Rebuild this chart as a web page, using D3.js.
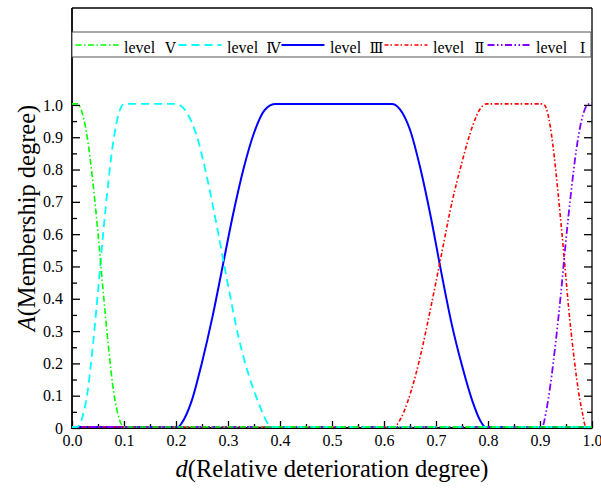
<!DOCTYPE html>
<html>
<head>
<meta charset="utf-8">
<script src="https://cdn.jsdelivr.net/npm/d3@7/dist/d3.min.js"></script>
<style>
  html, body { margin: 0; padding: 0; background: #fff; }
  svg { display: block; }
</style>
</head>
<body>
<svg id="chart" width="601" height="493"></svg>
<script>
// Membership functions of the five deterioration levels: [d, A] pairs
const levelV = [
  [0, 1], [0.01, 1], [0.02, 0.97], [0.03, 0.89], [0.04, 0.76], [0.05, 0.6],
  [0.06, 0.42], [0.07, 0.25], [0.08, 0.11], [0.09, 0.03], [0.1, 0], [1, 0]
];
const levelIV = [
  [0, 0], [0.01, 0], [0.02, 0.03], [0.03, 0.11], [0.04, 0.25], [0.05, 0.42],
  [0.06, 0.6], [0.07, 0.76], [0.08, 0.89], [0.09, 0.97], [0.1, 1], [0.2, 1],
  [0.22, 0.975], [0.24, 0.9], [0.26, 0.77], [0.28, 0.61], [0.3, 0.44],
  [0.32, 0.28], [0.34, 0.16], [0.36, 0.07], [0.375, 0.015], [0.383, 0], [1, 0]
];
const levelIII = [
  [0, 0], [0.204, 0], [0.21, 0.01], [0.23, 0.08], [0.25, 0.2], [0.27, 0.34],
  [0.29, 0.5], [0.31, 0.66], [0.33, 0.8], [0.35, 0.91], [0.37, 0.98], [0.39, 1],
  [0.615, 1], [0.63, 0.985], [0.65, 0.92], [0.67, 0.8], [0.69, 0.65],
  [0.71, 0.48], [0.73, 0.32], [0.75, 0.19], [0.77, 0.08], [0.785, 0.02],
  [0.795, 0], [1, 0]
];
const levelII = [
  [0, 0], [0.62, 0], [0.63, 0.02], [0.65, 0.1], [0.67, 0.22], [0.69, 0.37],
  [0.71, 0.53], [0.73, 0.69], [0.75, 0.82], [0.77, 0.93], [0.785, 0.985],
  [0.797, 1], [0.906, 1], [0.915, 0.97], [0.925, 0.87], [0.935, 0.72],
  [0.945, 0.55], [0.955, 0.37], [0.965, 0.22], [0.975, 0.1], [0.982, 0.04],
  [0.988, 0], [1, 0]
];
const levelI = [
  [0, 0], [0.904, 0], [0.912, 0.05], [0.92, 0.13], [0.93, 0.26], [0.94, 0.41],
  [0.95, 0.58], [0.96, 0.73], [0.97, 0.86], [0.98, 0.95], [0.99, 0.995],
  [0.995, 1], [1, 1]
];

// Legend order and numerals
const legendNumerals = ["Ⅴ", "Ⅳ", "Ⅲ", "Ⅱ", "Ⅰ"];
const legendWord = "level";

// Axis ticks
const xTickValues = [0, 0.1, 0.2, 0.3, 0.4, 0.5, 0.6, 0.7, 0.8, 0.9, 1.0];
const xTickLabels = ["0.0", "0.1", "0.2", "0.3", "0.4", "0.5", "0.6", "0.7", "0.8", "0.9", "1.0"];
const yTickValues = [0, 0.1, 0.2, 0.3, 0.4, 0.5, 0.6, 0.7, 0.8, 0.9, 1.0];
const yTickLabels = ["0", "0.1", "0.2", "0.3", "0.4", "0.5", "0.6", "0.7", "0.8", "0.9", "1.0"];
const minorTickValues = [0.05, 0.15, 0.25, 0.35, 0.45, 0.55, 0.65, 0.75, 0.85, 0.95];

// Series styling
const series = [
  { key: "Ⅴ", data: levelV,   color: "#00ff00", dash: "6,2.5,1.5,2.5",           width: 1.6 },
  { key: "Ⅳ", data: levelIV,  color: "#00ffff", dash: "8,5",                     width: 1.8 },
  { key: "Ⅲ", data: levelIII, color: "#0000ff", dash: null,                      width: 2 },
  { key: "Ⅱ", data: levelII,  color: "#ff0000", dash: "4,2,1.5,2.5",             width: 1.6 },
  { key: "Ⅰ", data: levelI,   color: "#8000ff", dash: "7,2.5,1.5,2.5,1.5,2.5",   width: 1.8 }
];

const SERIF = "\"Liberation Serif\", \"Times New Roman\", serif";
const NUMERAL_FONT = "\"DejaVu Serif\", serif";

const svg = d3.select("#chart");
const W = 601, H = 493;
const plot = { left: 72, right: 592, top: 8, bottom: 428 };

svg.append("rect").attr("width", W).attr("height", H).attr("fill", "#fff");

const x = d3.scaleLinear().domain([0, 1]).range([plot.left, plot.right]);
const y = d3.scaleLinear().domain([0, 1.3]).range([plot.bottom, plot.top]);

function styleTicks(g, labelled) {
  g.attr("font-family", null).attr("font-size", null);
  g.select(".domain").remove();
  g.selectAll(".tick line").attr("stroke", "#000").attr("stroke-width", 1.3);
  if (labelled) {
    g.selectAll(".tick text")
      .style("font-family", SERIF)
      .style("font-size", "16px")
      .attr("fill", "#000");
  }
}

// Bottom axis: ticks point inward
const gx = svg.append("g").attr("transform", `translate(0,${plot.bottom})`)
  .call(d3.axisBottom(x).tickValues(xTickValues).tickSize(-7).tickPadding(7)
    .tickFormat((d, i) => xTickLabels[i]));
styleTicks(gx, true);
const gxMinor = svg.append("g").attr("transform", `translate(0,${plot.bottom})`)
  .call(d3.axisBottom(x).tickValues(minorTickValues).tickSize(-4).tickFormat(""));
styleTicks(gxMinor, false);

// Left axis: ticks point inward
const gy = svg.append("g").attr("transform", `translate(${plot.left},0)`)
  .call(d3.axisLeft(y).tickValues(yTickValues).tickSize(-8).tickPadding(9)
    .tickFormat((d, i) => yTickLabels[i]));
styleTicks(gy, true);
const gyMinor = svg.append("g").attr("transform", `translate(${plot.left},0)`)
  .call(d3.axisLeft(y).tickValues(minorTickValues).tickSize(-5).tickFormat(""));
styleTicks(gyMinor, false);

// Right axis: ticks only, pointing inward
const gyr = svg.append("g").attr("transform", `translate(${plot.right},0)`)
  .call(d3.axisRight(y).tickValues(yTickValues).tickSize(-8).tickFormat(""));
styleTicks(gyr, false);
const gyrMinor = svg.append("g").attr("transform", `translate(${plot.right},0)`)
  .call(d3.axisRight(y).tickValues(minorTickValues).tickSize(-5).tickFormat(""));
styleTicks(gyrMinor, false);

// Frame
const frame = svg.append("g").attr("stroke", "#000");
frame.append("line").attr("x1", plot.left).attr("x2", plot.right).attr("y1", plot.top).attr("y2", plot.top)
  .attr("stroke-width", 1.3);
frame.append("line").attr("x1", plot.right).attr("x2", plot.right).attr("y1", plot.top).attr("y2", plot.bottom)
  .attr("stroke-width", 1.3);
frame.append("line").attr("x1", plot.left).attr("x2", plot.left).attr("y1", plot.top).attr("y2", plot.bottom + 0.9)
  .attr("stroke-width", 1.8);
frame.append("line").attr("x1", plot.left).attr("x2", plot.right + 0.6).attr("y1", plot.bottom).attr("y2", plot.bottom)
  .attr("stroke-width", 1.8);

// Curves sit over the frame, so the zero segments show along the bottom axis
const line = d3.line()
  .x(d => x(d[0]))
  .y(d => y(d[1]) - 1)
  .curve(d3.curveMonotoneX);

const drawOrder = ["Ⅲ", "Ⅱ", "Ⅰ", "Ⅳ", "Ⅴ"];
const curves = svg.append("g");
drawOrder.forEach(k => {
  const s = series.find(t => t.key === k);
  curves.append("path")
    .datum(s.data)
    .attr("d", line)
    .attr("fill", "none")
    .attr("stroke", s.color)
    .attr("stroke-width", s.width)
    .attr("stroke-dasharray", s.dash)
    .attr("stroke-linejoin", "round");
});

// Legend box across the top of the plot
const legend = svg.append("g");
legend.append("rect")
  .attr("x", plot.left).attr("y", 32)
  .attr("width", 591 - plot.left).attr("height", 25)
  .attr("fill", "#fff").attr("stroke", "#555").attr("stroke-width", 1);

const legendX = d3.scaleLinear().domain([0, 4]).range([75.5, 487.5]);
series.forEach((s, i) => {
  const x0 = legendX(i);
  legend.append("line")
    .attr("x1", x0).attr("x2", x0 + 43)
    .attr("y1", 45).attr("y2", 45)
    .attr("stroke", s.color)
    .attr("stroke-width", s.width)
    .attr("stroke-dasharray", s.dash);
  legend.append("text")
    .attr("x", x0 + 48.5).attr("y", 52.5)
    .style("font-family", SERIF).style("font-size", "16px")
    .text(legendWord);
  legend.append("text")
    .attr("x", x0 + 95).attr("y", 52.5)
    .attr("text-anchor", "middle")
    .style("font-family", NUMERAL_FONT).style("font-size", "14.5px")
    .text(legendNumerals[i]);
});

// Axis titles
const xTitle = svg.append("text")
  .attr("x", (plot.left + plot.right) / 2)
  .attr("y", 477)
  .attr("text-anchor", "middle")
  .style("font-family", SERIF).style("font-size", "24.5px");
xTitle.append("tspan").style("font-style", "italic").text("d");
xTitle.append("tspan").text("(Relative deterioration degree)");

const yTitle = svg.append("text")
  .attr("transform", `translate(35,${(plot.top + plot.bottom) / 2}) rotate(-90)`)
  .attr("text-anchor", "middle")
  .style("font-family", SERIF).style("font-size", "24.5px");
yTitle.append("tspan").style("font-style", "italic").text("A");
yTitle.append("tspan").text("(Membership degree)");
</script>
</body>
</html>
